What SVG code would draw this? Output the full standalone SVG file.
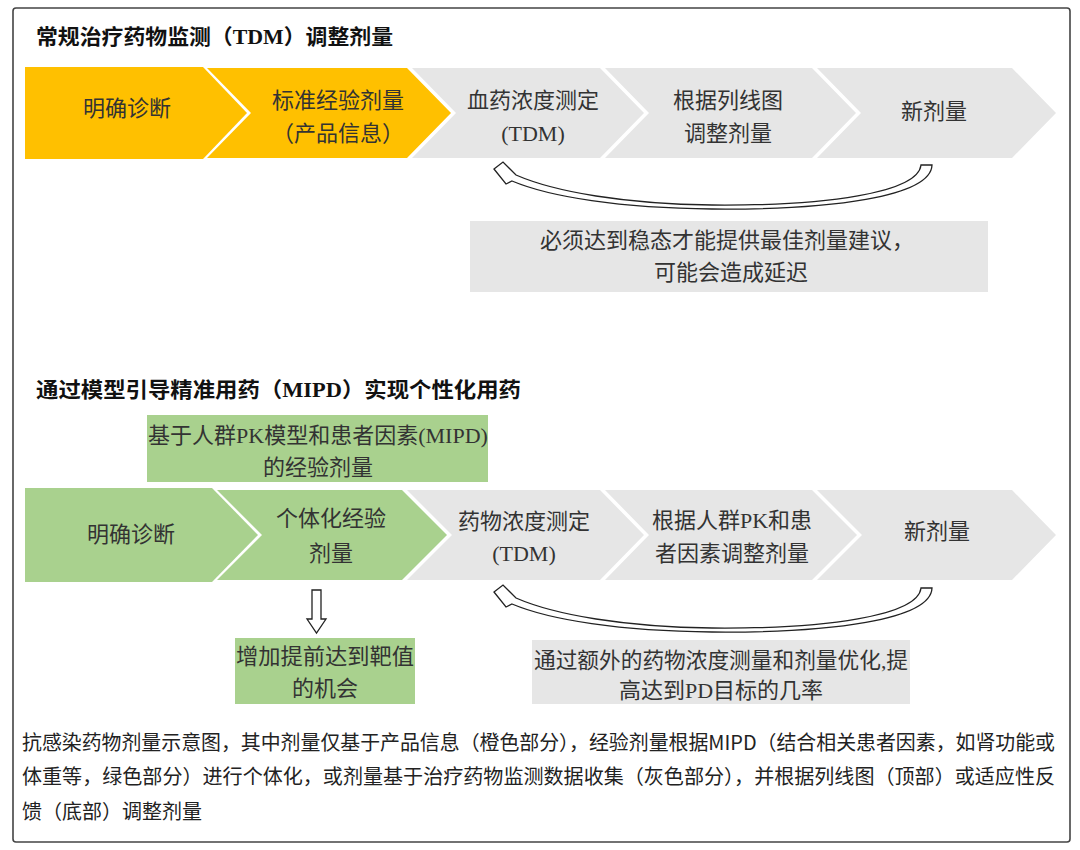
<svg xmlns="http://www.w3.org/2000/svg" xmlns:xlink="http://www.w3.org/1999/xlink" width="1080" height="850" viewBox="0 0 1080 850">
<style>
.t{font-family:"Liberation Serif","Noto Sans CJK SC",serif;font-size:22px;fill:#333;text-anchor:middle}
.title{font-family:"Liberation Serif","Noto Sans CJK SC",serif;font-size:21px;font-weight:bold;fill:#111}
.cap{font-family:"Noto Sans CJK SC","Liberation Sans",sans-serif;font-size:20px;fill:#222}
.or{fill:#FFC000}
.gr{fill:#A9D18E}
.gy{fill:#E6E6E6}
.arr{fill:#fff;stroke:#222;stroke-width:1.3;stroke-linejoin:miter}
</style>
<defs>
<path id="curve" d="M 494 169 L 503 162 L 516 175 C 555 192 625 204 712 205 C 825 206 918 193 921 165 L 932 165 C 931 197 830 210 712 209 C 620 208 550 197 512 181 L 506 184 Z"/>
</defs>
<rect x="0" y="0" width="1080" height="850" fill="#fff"/>
<rect x="13" y="8" width="1057" height="834" rx="3" fill="#fff" stroke="#444" stroke-width="1.6"/>

<g id="title1"><text class="title" x="36" y="44" textLength="357" lengthAdjust="spacingAndGlyphs">常规治疗药物监测（TDM）调整剂量</text></g>

<g id="top-c1"><path class="or" d="M25 67 L203 67 L247 113 L203 159 L25 159 Z"/><text class="t" x="127" y="116">明确诊断</text></g>
<g id="top-c2"><path class="or" d="M207 68 L407 68 L451 113 L407 158 L207 158 L251 113 Z"/><text class="t" x="338" y="108">标准经验剂量</text><text class="t" x="338" y="141">（产品信息）</text></g>
<g id="top-c3"><path class="gy" d="M412 68 L600 68 L644 113 L600 158 L412 158 L456 113 Z"/><text class="t" x="533" y="108">血药浓度测定</text><text class="t" x="533" y="141">(TDM)</text></g>
<g id="top-c4"><path class="gy" d="M605 68 L812 68 L856 113 L812 158 L605 158 L649 113 Z"/><text class="t" x="728" y="108">根据列线图</text><text class="t" x="728" y="141">调整剂量</text></g>
<g id="top-c5"><path class="gy" d="M817 68 L1012 68 L1056 113 L1012 158 L817 158 L861 113 Z"/><text class="t" x="934" y="119">新剂量</text></g>

<g id="top-note"><rect class="gy" x="470" y="221" width="518" height="71"/><text class="t" x="727" y="248">必须达到稳态才能提供最佳剂量建议，</text><text class="t" x="731" y="280">可能会造成延迟</text></g>

<g id="title2"><text class="title" x="36" y="397" textLength="485" lengthAdjust="spacingAndGlyphs">通过模型引导精准用药（MIPD）实现个性化用药</text></g>

<g id="mipd-box"><rect class="gr" x="147" y="415" width="341" height="67"/><text class="t" x="318" y="443">基于人群PK模型和患者因素(MIPD)</text><text class="t" x="318" y="475">的经验剂量</text></g>

<g id="bot-c1"><path class="gr" d="M25 488 L212 488 L258 535 L212 582 L25 582 Z"/><text class="t" x="131" y="542">明确诊断</text></g>
<g id="bot-c2"><path class="gr" d="M217 490 L402 490 L447 535 L402 580 L217 580 L262 535 Z"/><text class="t" x="331" y="526">个体化经验</text><text class="t" x="331" y="561">剂量</text></g>
<g id="bot-c3"><path class="gy" d="M407 490 L600 490 L644 535 L600 580 L407 580 L452 535 Z"/><text class="t" x="524" y="529">药物浓度测定</text><text class="t" x="524" y="561">(TDM)</text></g>
<g id="bot-c4"><path class="gy" d="M605 490 L812 490 L857 535 L812 580 L605 580 L649 535 Z"/><text class="t" x="732" y="528">根据人群PK和患</text><text class="t" x="732" y="561">者因素调整剂量</text></g>
<g id="bot-c5"><path class="gy" d="M817 490 L1012 490 L1056 535 L1012 580 L817 580 L862 535 Z"/><text class="t" x="937" y="539">新剂量</text></g>

<g id="target-box"><rect class="gr" x="235" y="638" width="180" height="66"/><text class="t" x="325" y="664" textLength="178" lengthAdjust="spacingAndGlyphs">增加提前达到靶值</text><text class="t" x="325" y="696">的机会</text></g>

<g id="bot-note"><rect class="gy" x="532" y="640" width="378" height="64"/><text class="t" x="721" y="668" textLength="374" lengthAdjust="spacingAndGlyphs">通过额外的药物浓度测量和剂量优化,提</text><text class="t" x="721" y="698">高达到PD目标的几率</text></g>

<g id="connectors">
<use xlink:href="#curve" class="arr"/>
<use xlink:href="#curve" class="arr" transform="translate(0,423)"/>
<path class="arr" d="M312 590 L321 590 L321 619 L326 619 L316.5 633 L307 619 L312 619 Z"/>
</g>

<g id="caption">
<text class="cap" x="22" y="750" textLength="1033" lengthAdjust="spacingAndGlyphs">抗感染药物剂量示意图，其中剂量仅基于产品信息（橙色部分），经验剂量根据MIPD（结合相关患者因素，如肾功能或</text>
<text class="cap" x="22" y="784" textLength="1033" lengthAdjust="spacingAndGlyphs">体重等，绿色部分）进行个体化，或剂量基于治疗药物监测数据收集（灰色部分），并根据列线图（顶部）或适应性反</text>
<text class="cap" x="22" y="819">馈（底部）调整剂量</text>
</g>
</svg>
